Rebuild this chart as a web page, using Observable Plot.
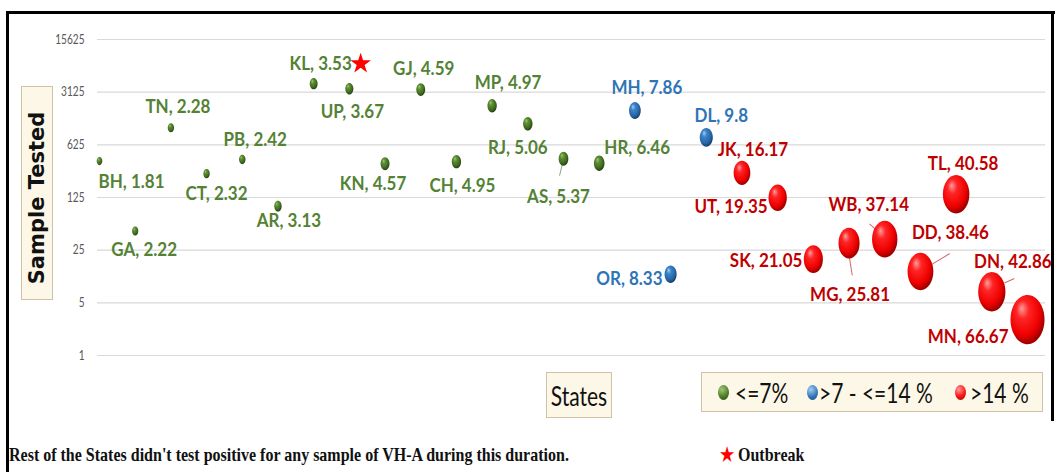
<!DOCTYPE html>
<html>
<head>
<meta charset="utf-8">
<script src="https://cdn.jsdelivr.net/npm/d3@7"></script>
<script src="https://cdn.jsdelivr.net/npm/@observablehq/plot@0.6"></script>
<style>
  html, body { margin: 0; padding: 0; background: #fff; }
  #wrap { position: relative; width: 1058px; height: 472px; overflow: hidden; font-family: Lato, "Open Sans", sans-serif; }
  #chart { position: absolute; left: 0; top: 0; }
  .line { position: absolute; background: #000; }
  .box { position: absolute; background: #fcf7e6; border: 1px solid #cdc3a8; box-sizing: border-box; }
  .ylab { position: absolute; left: -70px; top: 182px; width: 214px; height: 32px; transform: rotate(-90deg);
          text-align: center; line-height: 32px; font-family: "DejaVu Sans", sans-serif; font-weight: bold; font-size: 21px; color: #111; }
  .states { position: absolute; left: 546px; top: 372px; width: 66px; height: 46px; display: flex; align-items: center; justify-content: center; }
  .states span { font-size: 21px; color: #111; display: inline-block; transform: scaleY(1.25); }
  .leg { position: absolute; left: 701px; top: 372px; width: 342px; height: 40px; }
  .ldot { position: absolute; width: 11px; height: 15px; border-radius: 50%; }
  .ltxt { position: absolute; top: 392px; font-size: 21px; color: #111; line-height: 1; transform: translateY(-50%) scaleY(1.25); transform-origin: left center; white-space: nowrap; }
  .foot { position: absolute; font-family: "Liberation Serif", "Times New Roman", serif; font-weight: bold; font-size: 16px; line-height: 18px; color: #111; white-space: nowrap; transform: scaleY(1.2); transform-origin: left bottom; }
</style>
</head>
<body>
<div id="wrap">
  <div id="chart"></div>
</div>
<script>
// ---------------- data ----------------
const states = ["BH","GA","TN","CT","PB","AR","KL","UP","KN","GJ","CH","MP","RJ","AS","HR","MH","OR","DL","JK","UT","SK","MG","WB","DD","TL","DN","MN"];
const positivity = [1.81,2.22,2.28,2.32,2.42,3.13,3.53,3.67,4.57,4.59,4.95,4.97,5.06,5.37,6.46,7.86,8.33,9.8,16.17,19.35,21.05,25.81,37.14,38.46,40.58,42.86,66.67];
const samples = [380,45,1055,259,400,96,4050,3470,350,3380,374,2070,1190,410,356,1780,12,786,266,124,19,31,35,13,138,7,3];
const yTicks = [1,5,25,125,625,3125,15625];
const outbreakStates = ["KL"];
const classNames = ["<=7%", ">7 - <=14 %", ">14 %"];
const yTitle = "Sample Tested";
const xTitle = "States";
const footnote = "Rest of the States didn't test positive for any sample of VH-A during this duration.";
const outbreakLabel = "Outbreak";

// ---------------- layout / styling (not data) ----------------
const labelLayout = {
  BH:[32,21], GA:[9,19], TN:[7,-21], CT:[10,20], PB:[13,-20], AR:[11,15], KL:[7,-20], UP:[3,23],
  KN:[-12,20], GJ:[3,-21], CH:[6,24], MP:[16,-23], RJ:[-10,24], AS:[-5,38], HR:[38,-15], MH:[12,-23],
  OR:[-8,5,"end"], DL:[15,-22], JK:[11,-23], UT:[-10,9,"end"], SK:[-11,2,"end"], MG:[1,52],
  WB:[-16,-34], DD:[30,-39], TL:[7,-31], DN:[21,-30], MN:[-19,17,"end"]
};
// leader lines: [dx, dy, length, rotate]
const leaderLayout = { AS:[-1,5,12,194], WB:[-15,-15,11,131], MG:[0,12,20,171], DD:[11,-7,21,59], DN:[13,-9,10,66] };
const palette = {
  low:  {label:"#548235", stops:["#a3c77a","#5e8f33","#3f6a1f","#243f10"], css:"radial-gradient(circle at 35% 30%, #a3c77a, #4f7d28 55%, #2a4713)"},
  mid:  {label:"#2e75b6", stops:["#a6cdf0","#3d84c8","#2766a6","#163d68"], css:"radial-gradient(circle at 35% 30%, #a6cdf0, #3479bd 55%, #1a4576)"},
  high: {label:"#c00000", stops:["#ff9c9c","#ff2424","#ee0000","#9a0000"], css:"radial-gradient(circle at 35% 30%, #ff9c9c, #ff1a1a 50%, #a00000)"}
};

const data = states.map((s, i) => ({
  state: s, idx: i + 1, p: positivity[i], n: samples[i],
  cls: positivity[i] <= 7 ? "low" : positivity[i] <= 14 ? "mid" : "high"
}));

// ellipse symbol (bubbles appear vertically stretched in the reference)
const ellipse = {
  draw(ctx, size) {
    const r = Math.sqrt(size / Math.PI), rx = r, ry = r * 1.45, k = 0.5523;
    ctx.moveTo(rx, 0);
    ctx.bezierCurveTo(rx, ry * k, rx * k, ry, 0, ry);
    ctx.bezierCurveTo(-rx * k, ry, -rx, ry * k, -rx, 0);
    ctx.bezierCurveTo(-rx, -ry * k, -rx * k, -ry, 0, -ry);
    ctx.bezierCurveTo(rx * k, -ry, rx, -ry * k, rx, 0);
    ctx.closePath();
  }
};
const lineShape = { draw(ctx, l) { ctx.moveTo(0, 0); ctx.lineTo(0, -l); } };

const svgns = "http://www.w3.org/2000/svg";
const defsMark = () => {
  const defs = document.createElementNS(svgns, "defs");
  defs.innerHTML = Object.entries(palette).map(([k, v]) =>
    `<radialGradient id="grad-${k}" cx="0.42" cy="0.38" r="0.62" fx="0.33" fy="0.27">
       <stop offset="0" stop-color="${v.stops[0]}"/>
       <stop offset="0.3" stop-color="${v.stops[1]}"/>
       <stop offset="0.75" stop-color="${v.stops[2]}"/>
       <stop offset="1" stop-color="${v.stops[3]}"/>
     </radialGradient>`).join("");
  return defs;
};

const marks = [
  defsMark,
  Plot.ruleY(yTicks, {stroke: "#d9d9d9", strokeWidth: 1.2}),
  Plot.axisY({ticks: yTicks, tickFormat: d => String(d), tickSize: 0, tickPadding: 13, fontSize: 11, label: null, fill: "#595959"}),
  ...Object.entries(leaderLayout).map(([s, [dx, dy, len, rot]]) => {
    const d = data.find(e => e.state === s);
    return Plot.vector([d], {x: "idx", y: "n", dx, dy, length: len, rotate: rot, anchor: "start", shape: lineShape,
      stroke: d.cls === "low" ? "#8fa886" : "#d06a6a", strokeWidth: 1});
  }),
  ...["low", "mid", "high"].map(c => Plot.dot(data.filter(d => d.cls === c), {
    x: "idx", y: "n", r: "p", symbol: ellipse, fill: `url(#grad-${c})`, stroke: "none", sort: {channel: "-r"}
  })),
  ...data.map(d => {
    const [dx, dy, anchor] = labelLayout[d.state];
    return Plot.text([d], {x: "idx", y: "n", text: e => `${e.state}, ${e.p}`, dx, dy, textAnchor: anchor || "middle",
      fill: palette[d.cls].label, fontSize: 16.5, fontWeight: 700, fontFamily: "Lato"});
  }),
  Plot.dot(data.filter(d => outbreakStates.includes(d.state)), {x: "idx", y: "n", symbol: "star", r: 6.5, fill: "#ff0000", stroke: "none", dx: 47, dy: -20})
];

const chart = Plot.plot({
  width: 1058, height: 472,
  marginTop: 39, marginBottom: 117, marginLeft: 97, marginRight: 13,
  style: {fontFamily: "Lato, sans-serif", background: "transparent", color: "#595959"},
  x: {domain: [0.944, 27.504], axis: null},
  y: {type: "log", base: 5, domain: [1, 15625], axis: null},
  r: {type: "sqrt", domain: [0, 66.67], range: [0, 17]},
  marks
});
// the reference's text is vertically stretched: stretch data labels a little around their anchor
chart.querySelectorAll('g[font-weight="700"] text').forEach(t => {
  const tr = t.getAttribute("transform") || "";
  t.setAttribute("transform", tr + " scale(1.03,1.18)");
});
chart.querySelectorAll('g[aria-label="y-axis tick label"] text').forEach(t => {
  const tr = t.getAttribute("transform") || "";
  t.setAttribute("transform", tr + " scale(0.92,1.15)");
});
document.getElementById("chart").appendChild(chart);

// ---------------- overlays: frame, titles, legend, footnote ----------------
const wrap = document.getElementById("wrap");
function add(html) { wrap.insertAdjacentHTML("beforeend", html); }
add(`<div class="line" style="left:6px;top:11px;width:1049px;height:3px"></div>`);
add(`<div class="line" style="left:6px;top:11px;width:3px;height:461px"></div>`);
add(`<div class="line" style="left:1051px;top:11px;width:3px;height:410px"></div>`);
add(`<div class="box" style="left:21px;top:86px;width:32px;height:214px"></div>`);
add(`<div class="ylab">${yTitle}</div>`);
add(`<div class="box states"><span>${xTitle}</span></div>`);
add(`<div class="box leg"></div>`);
const legendPos = [[723, 735], [812, 819], [960, 970]];
["low", "mid", "high"].forEach((c, i) => {
  const [cx, tx] = legendPos[i];
  add(`<div class="ldot" style="left:${cx - 5}px;top:${392 - 7}px;background:${palette[c].css}"></div>`);
  add(`<div class="ltxt" style="left:${tx}px">${classNames[i].replace(/</g, "&lt;").replace(/>/g, "&gt;")}</div>`);
});
add(`<div class="foot" style="left:9px;top:448px">${footnote}</div>`);
add(`<div class="foot" style="left:720px;top:448px"><span style="color:#ff0000">&#9733;</span> ${outbreakLabel}</div>`);
</script>
</body>
</html>
